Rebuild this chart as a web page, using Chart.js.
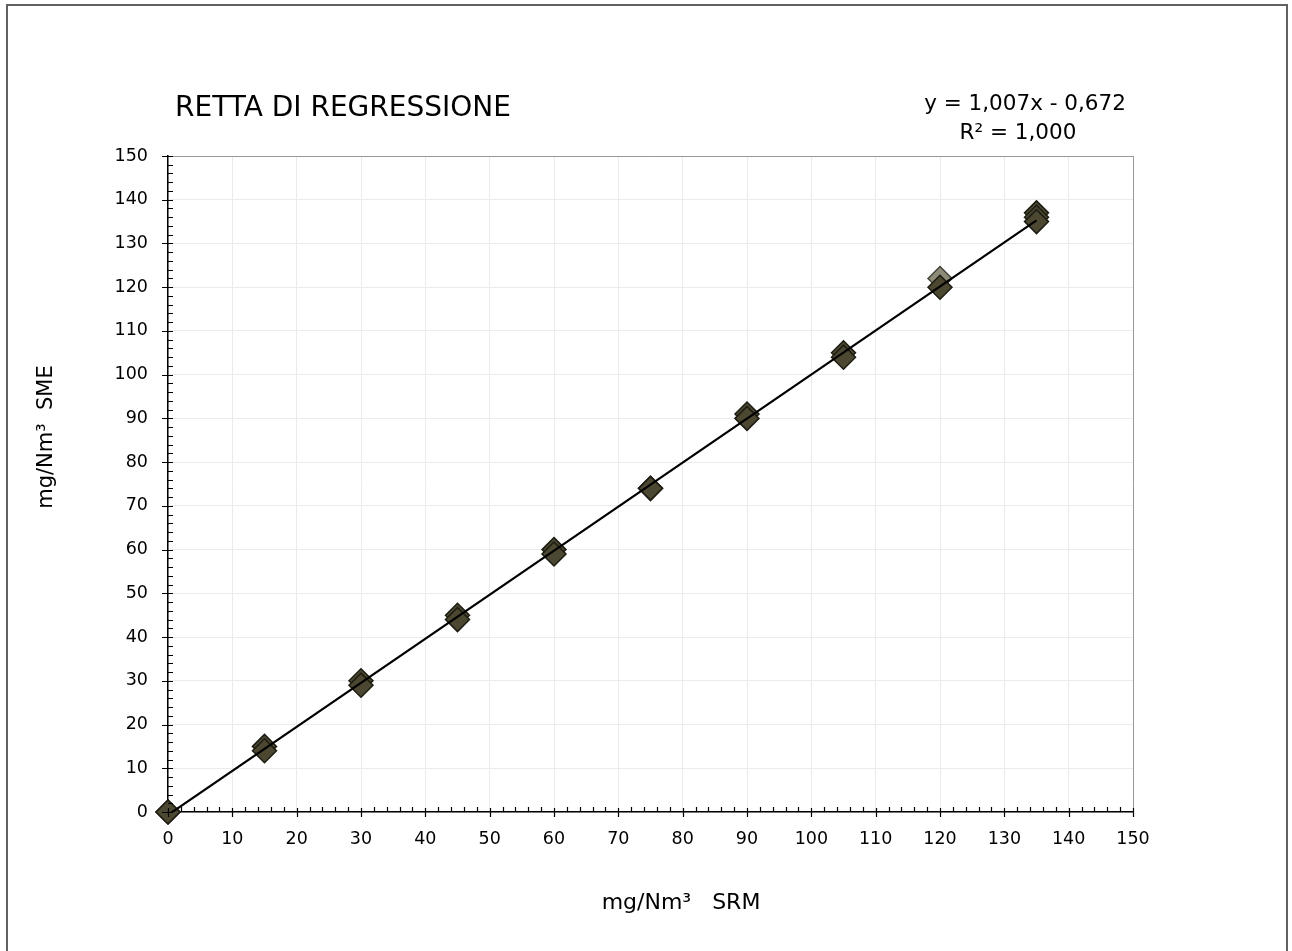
<!DOCTYPE html>
<html>
<head>
<meta charset="utf-8">
<script src="https://cdn.jsdelivr.net/npm/chart.js@4.4.0/dist/chart.umd.min.js"></script>
<style>
    body { margin: 0; background: #fff; }
    #wrap { position: relative; width: 1292px; height: 951px; overflow: hidden; }
    #frame { position: absolute; left: 6px; top: 4px; width: 1278px; height: 980px; border: 2px solid #616161; }
    canvas { position: absolute; left: 0; top: 0; }
</style>
</head>
<body>
<div id="wrap">
    <div id="frame"></div>
    <canvas id="regChart" width="1292" height="951"></canvas>
</div>
<script>
// measured values (SRM on x, SME on y)
const srmDark = [0, 0, 15, 15, 30, 30, 45, 45, 60, 60, 75, 75, 90, 90, 105, 105, 120, 135, 135, 135];
const smeDark = [0, 0, 15, 14, 30, 29, 45, 44, 60, 59, 74, 74, 91, 90, 105, 104, 120, 137, 136, 135];
const srmLight = [120];
const smeLight = [122];
// regression line end points, y = 1,007x - 0,672
const trendX = [0, 135];
const trendY = [-0.672, 135.273];
const axisTicks = [0, 10, 20, 30, 40, 50, 60, 70, 80, 90, 100, 110, 120, 130, 140, 150];

const titleText = 'RETTA DI REGRESSIONE';
const eqLines = ['y = 1,007x - 0,672', 'R² = 1,000'];
const xTitle = 'mg/Nm³   SRM';
const yTitle = 'mg/Nm³  SME';

const FONT = '"DejaVu Sans", Tahoma, sans-serif';

function toPoints(xs, ys) {
    return xs.map((x, i) => ({ x: x, y: ys[i] }));
}

// major ticks cross the axis, minor ticks (every 2) sit inside
const axisTickPlugin = {
    id: 'axisTicks',
    afterDraw(chart) {
        const ctx = chart.ctx;
        const xs = chart.scales.x, ys = chart.scales.y;
        const x0 = xs.getPixelForValue(0), y0 = ys.getPixelForValue(0);
        ctx.save();
        ctx.strokeStyle = '#000';
        ctx.lineWidth = 1.2;
        ctx.beginPath();
        for (let v = 0; v <= 150; v += 2) {
            const major = v % 10 === 0;
            const px = Math.round(xs.getPixelForValue(v)) + 0.5;
            const py = Math.round(ys.getPixelForValue(v)) + 0.5;
            if (major) {
                ctx.moveTo(px, y0 - 4); ctx.lineTo(px, y0 + 5);
                ctx.moveTo(x0 - 6, py); ctx.lineTo(x0 + 5, py);
            } else {
                ctx.moveTo(px, y0); ctx.lineTo(px, y0 - 5);
                ctx.moveTo(x0, py); ctx.lineTo(x0 + 5, py);
            }
        }
        ctx.stroke();
        ctx.restore();
    }
};

const labelPlugin = {
    id: 'labels',
    afterDraw(chart) {
        const ctx = chart.ctx;
        ctx.save();
        ctx.fillStyle = '#000';
        ctx.textBaseline = 'middle';

        ctx.font = '28px ' + FONT;
        ctx.textAlign = 'left';
        ctx.fillText(titleText, 175, 109);

        ctx.font = '21.5px ' + FONT;
        ctx.textAlign = 'center';
        ctx.fillText(eqLines[0], 1025, 104);
        ctx.fillText(eqLines[1], 1018, 133);

        ctx.font = '22px ' + FONT;
        ctx.fillText(xTitle, 681, 903);

        ctx.font = '21px ' + FONT;
        ctx.translate(47, 437);
        ctx.rotate(-Math.PI / 2);
        ctx.fillText(yTitle, 0, 0);
        ctx.restore();
    }
};

function gridColor(c) {
    return c.tick && c.tick.value === 150 ? '#999999' : '#ebebeb';
}

new Chart(document.getElementById('regChart'), {
    type: 'scatter',
    data: {
        datasets: [
            {
                type: 'line',
                label: 'Lineare',
                data: toPoints(trendX, trendY),
                borderColor: '#000',
                borderWidth: 2.2,
                pointRadius: 0,
                fill: false,
                order: 0
            },
            {
                label: 'SME',
                data: toPoints(srmDark, smeDark),
                pointStyle: 'rectRot',
                pointRadius: 12,
                pointHoverRadius: 12,
                backgroundColor: '#4b4731',
                borderColor: '#1c1c12',
                borderWidth: 1.5,
                clip: false,
                order: 1
            },
            {
                label: 'SME 2',
                data: toPoints(srmLight, smeLight),
                pointStyle: 'rectRot',
                pointRadius: 12,
                pointHoverRadius: 12,
                backgroundColor: '#8d8b78',
                borderColor: '#45453a',
                borderWidth: 1.5,
                clip: false,
                order: 2
            }
        ]
    },
    options: {
        responsive: false,
        animation: false,
        layout: { padding: { top: 156, right: 159, bottom: 0, left: 0 } },
        plugins: {
            legend: { display: false },
            tooltip: { enabled: false }
        },
        scales: {
            x: {
                type: 'linear',
                min: 0,
                max: 150,
                afterBuildTicks: s => { s.ticks = axisTicks.map(v => ({ value: v })); },
                afterFit: s => { s.height = 951 - 812; },
                grid: { color: gridColor, lineWidth: 1, drawTicks: false },
                border: { color: '#000', width: 1.5 },
                ticks: { padding: 17, color: '#000', font: { family: FONT, size: 17.5 } }
            },
            y: {
                type: 'linear',
                min: 0,
                max: 150,
                afterBuildTicks: s => { s.ticks = axisTicks.map(v => ({ value: v })); },
                afterFit: s => { s.width = 168; },
                grid: { color: gridColor, lineWidth: 1, drawTicks: false },
                border: { color: '#000', width: 1.5 },
                ticks: { padding: 20, color: '#000', font: { family: FONT, size: 17.5 } }
            }
        }
    },
    plugins: [axisTickPlugin, labelPlugin]
});
</script>
</body>
</html>
